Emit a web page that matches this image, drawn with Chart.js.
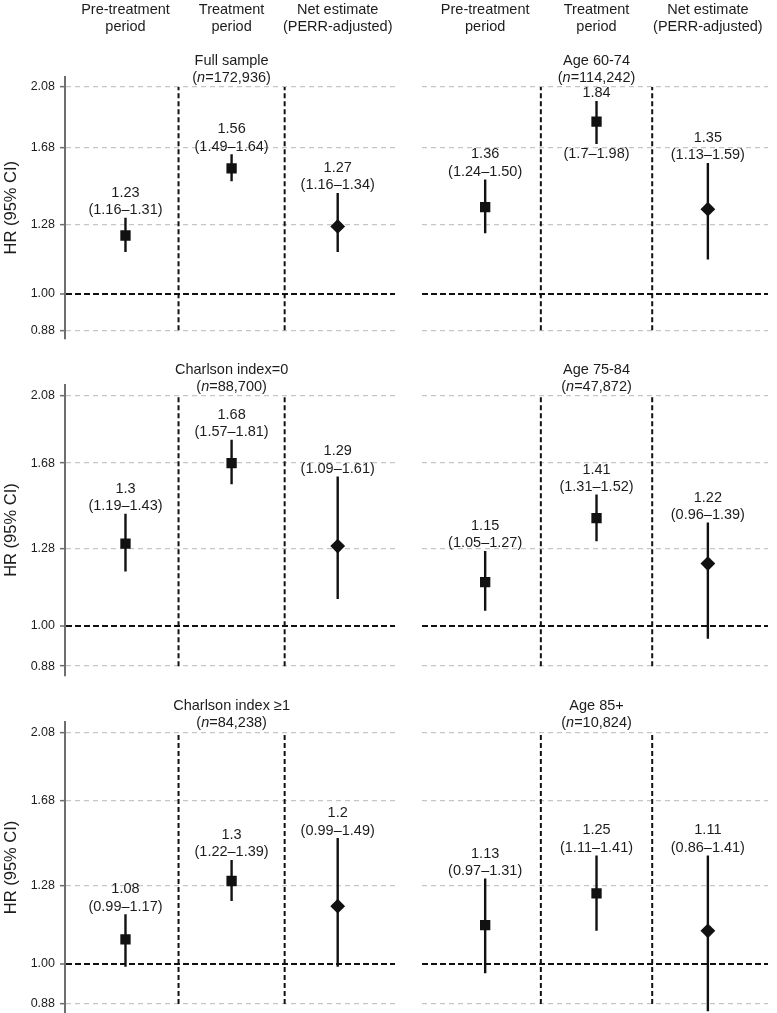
<!DOCTYPE html>
<html>
<head>
<meta charset="utf-8">
<script src="https://cdn.jsdelivr.net/npm/chart.js@4.4.0/dist/chart.umd.min.js"></script>
<style>
html, body { margin: 0; padding: 0; background: #fff; }
#wrap { position: relative; width: 777px; height: 1013px; overflow: hidden; background: #fff; }
#wrap canvas { position: absolute; }
</style>
</head>
<body>
<div id="wrap"></div>
<script>
// ---------------- data ----------------
const categories = ['Pre-treatment period', 'Treatment period', 'Net estimate (PERR-adjusted)'];
const headerLines = [['Pre-treatment', 'period'], ['Treatment', 'period'], ['Net estimate', '(PERR-adjusted)']];
const yTicks = [0.88, 1.00, 1.28, 1.68, 2.08];

const panelNames = ['Full sample', 'Age 60-74', 'Charlson index=0', 'Age 75-84', 'Charlson index \u22651', 'Age 85+'];
const panelN = ['172,936', '114,242', '88,700', '47,872', '84,238', '10,824'];

// point estimates (HR) per panel: [pre-treatment, treatment, net]
const hrValues = [
  [1.23, 1.56, 1.27],
  [1.36, 1.84, 1.35],
  [1.30, 1.68, 1.29],
  [1.15, 1.41, 1.22],
  [1.08, 1.30, 1.20],
  [1.13, 1.25, 1.11]
];
// drawn 95% CI bounds
const ciLower = [
  [1.16, 1.49, 1.16],
  [1.24, 1.70, 1.13],
  [1.19, 1.57, 1.09],
  [1.05, 1.31, 0.96],
  [0.99, 1.22, 0.99],
  [0.97, 1.11, 0.86]
];
const ciUpper = [
  [1.31, 1.64, 1.43],
  [1.50, 1.98, 1.59],
  [1.43, 1.81, 1.61],
  [1.27, 1.52, 1.39],
  [1.17, 1.39, 1.49],
  [1.31, 1.41, 1.41]
];
// printed labels
const hrLabels = [
  ['1.23', '1.56', '1.27'],
  ['1.36', '1.84', '1.35'],
  ['1.3', '1.68', '1.29'],
  ['1.15', '1.41', '1.22'],
  ['1.08', '1.3', '1.2'],
  ['1.13', '1.25', '1.11']
];
const ciLabels = [
  ['(1.16\u20131.31)', '(1.49\u20131.64)', '(1.16\u20131.34)'],
  ['(1.24\u20131.50)', '(1.7\u20131.98)', '(1.13\u20131.59)'],
  ['(1.19\u20131.43)', '(1.57\u20131.81)', '(1.09\u20131.61)'],
  ['(1.05\u20131.27)', '(1.31\u20131.52)', '(0.96\u20131.39)'],
  ['(0.99\u20131.17)', '(1.22\u20131.39)', '(0.99\u20131.49)'],
  ['(0.97\u20131.31)', '(1.11\u20131.41)', '(0.86\u20131.41)']
];
// label with CI text placed under the interval (Age 60-74, treatment)
const ciLabelBelow = [
  [false, false, false],
  [false, true, false],
  [false, false, false],
  [false, false, false],
  [false, false, false],
  [false, false, false]
];

// ---------------- style / layout ----------------
const FONT = '"Liberation Sans", Arial, Helvetica, sans-serif';
const TEXT = '#1c1c1c';
const X_MIN = -0.57, X_MAX = 2.54, Y_MIN = 0.855, Y_MAX = 2.155;
const markerStyles = ['rect', 'rect', 'rectRot'];
const markerRadius = [7.3, 7.3, 7.4];

const rows = [
  { top: 0,   h: 340, padTop: 77,   padBottom: 1.7 },
  { top: 340, h: 340, padTop: 44.9, padBottom: 4.8 },
  { top: 680, h: 333, padTop: 41.8, padBottom: 0 }
];
const cols = [
  { left: 0,   w: 400, padLeft: 0,    padRight: 5, axisW: 65 },
  { left: 400, w: 377, padLeft: 21.7, padRight: 9, axisW: 0 }
];

const textPlugin = {
  id: 'panelText',
  afterDraw(chart, args, opts) {
    const ctx = chart.ctx;
    const xs = chart.scales.x, ys = chart.scales.y;
    const p = opts.panel;
    ctx.save();
    ctx.fillStyle = TEXT;
    ctx.textAlign = 'center';
    ctx.textBaseline = 'middle';

    if (opts.headers) {
      ctx.font = '14.5px ' + FONT;
      headerLines.forEach((lines, i) => {
        const x = xs.getPixelForValue(i);
        lines.forEach((t, j) => ctx.fillText(t, x, 10 + j * 17));
      });
    }

    // panel title
    const xt = xs.getPixelForValue(1);
    const yt = ys.getPixelForValue(yTicks[yTicks.length - 1]);
    ctx.font = '14.5px ' + FONT;
    ctx.fillText(panelNames[p], xt, yt - 26.5);
    const parts = [['(', '14.5px ' + FONT], ['n', 'italic 14.5px ' + FONT], ['=' + panelN[p] + ')', '14.5px ' + FONT]];
    let total = 0;
    parts.forEach(([t, f]) => { ctx.font = f; total += ctx.measureText(t).width; });
    let xx = xt - total / 2;
    ctx.textAlign = 'left';
    parts.forEach(([t, f]) => { ctx.font = f; ctx.fillText(t, xx, yt - 9.5); xx += ctx.measureText(t).width; });

    // point labels
    ctx.textAlign = 'center';
    ctx.font = '14.5px ' + FONT;
    categories.forEach((_, i) => {
      const x = xs.getPixelForValue(i);
      const top = ys.getPixelForValue(ciUpper[p][i]);
      const bot = ys.getPixelForValue(ciLower[p][i]);
      if (ciLabelBelow[p][i]) {
        ctx.fillText(hrLabels[p][i], x, top - 7.5);
        ctx.fillText(ciLabels[p][i], x, bot + 10);
      } else {
        ctx.fillText(ciLabels[p][i], x, top - 7.5);
        ctx.fillText(hrLabels[p][i], x, top - 25);
      }
    });
    ctx.restore();
  }
};

function makeConfig(p, r, c) {
  const isLeft = c === 0;
  const datasets = [];
  // markers (on top)
  datasets.push({
    label: 'HR',
    data: categories.map((_, i) => ({ x: i, y: hrValues[p][i] })),
    pointStyle: markerStyles,
    pointRadius: markerRadius,
    pointHoverRadius: markerRadius,
    pointBackgroundColor: '#111',
    pointBorderWidth: 0,
    showLine: false,
    order: 0
  });
  // confidence intervals
  categories.forEach((_, i) => {
    datasets.push({
      label: '95% CI',
      data: [{ x: i, y: ciLower[p][i] }, { x: i, y: ciUpper[p][i] }],
      showLine: true,
      borderColor: '#111',
      borderWidth: 2.4,
      pointRadius: 0,
      pointHoverRadius: 0,
      order: 1
    });
  });
  // vertical separators between periods
  for (let i = 0; i < categories.length - 1; i++) {
    datasets.push({
      label: 'sep',
      data: [{ x: i + 0.5, y: yTicks[0] }, { x: i + 0.5, y: yTicks[yTicks.length - 1] }],
      showLine: true,
      borderColor: '#111',
      borderWidth: 2,
      borderDash: [5, 3],
      pointRadius: 0,
      pointHoverRadius: 0,
      order: 2
    });
  }

  return {
    type: 'scatter',
    data: { datasets },
    options: {
      responsive: false,
      animation: false,
      devicePixelRatio: 1,
      events: [],
      layout: {
        autoPadding: false,
        padding: {
          top: rows[r].padTop,
          bottom: rows[r].padBottom,
          left: cols[c].padLeft,
          right: cols[c].padRight
        }
      },
      plugins: {
        legend: { display: false },
        tooltip: { enabled: false },
        panelText: { panel: p, headers: r === 0 }
      },
      scales: {
        x: {
          type: 'linear',
          display: false,
          min: X_MIN,
          max: X_MAX
        },
        y: {
          type: 'logarithmic',
          min: Y_MIN,
          max: Y_MAX,
          afterBuildTicks: (scale) => { scale.ticks = yTicks.map(v => ({ value: v })); },
          afterFit: (scale) => {
            scale.width = cols[c].axisW;
            scale.paddingTop = 0;
            scale.paddingBottom = 0;
            scale.paddingLeft = 0;
            scale.paddingRight = 0;
          },
          ticks: {
            display: isLeft,
            color: TEXT,
            padding: 5,
            font: { family: FONT, size: 12.5 },
            callback: (v) => Number(v).toFixed(2)
          },
          grid: {
            display: true,
            drawTicks: isLeft,
            tickLength: 5,
            tickColor: '#6e6e6e',
            tickWidth: 1.5,
            color: (ctx) => (ctx.tick && ctx.tick.value === 1 ? '#111' : '#c6c6c6'),
            lineWidth: (ctx) => (ctx.tick && ctx.tick.value === 1 ? 2 : 1.3)
          },
          border: {
            display: isLeft,
            color: '#6e6e6e',
            width: 2,
            dash: (ctx) => (ctx.tick && ctx.tick.value === 1 ? [6, 3] : [5, 4])
          },
          title: {
            display: isLeft,
            text: 'HR (95% CI)',
            color: TEXT,
            font: { family: FONT, size: 16.5 },
            padding: { top: 2, bottom: 0 }
          }
        }
      }
    },
    plugins: [textPlugin]
  };
}

const wrap = document.getElementById('wrap');
for (let r = 0; r < 3; r++) {
  for (let c = 0; c < 2; c++) {
    const p = r * 2 + c;
    const cv = document.createElement('canvas');
    cv.width = cols[c].w;
    cv.height = rows[r].h;
    cv.style.left = cols[c].left + 'px';
    cv.style.top = rows[r].top + 'px';
    cv.style.width = cols[c].w + 'px';
    cv.style.height = rows[r].h + 'px';
    wrap.appendChild(cv);
    new Chart(cv, makeConfig(p, r, c));
  }
}
</script>
</body>
</html>
